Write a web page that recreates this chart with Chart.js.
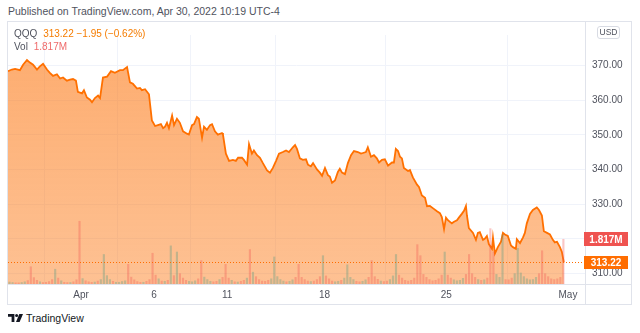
<!DOCTYPE html>
<html><head><meta charset="utf-8">
<script src="https://cdn.jsdelivr.net/npm/chart.js@4.4.1/dist/chart.umd.min.js"></script>
<style>
html,body{margin:0;padding:0;background:#fff;width:640px;height:333px;overflow:hidden;font-family:"Liberation Sans",Arial,sans-serif;}
#pub{position:absolute;left:8px;top:5px;font-size:10.5px;color:#50535e;white-space:nowrap;}
#frame{position:absolute;left:7px;top:21px;width:625px;height:284px;border:1px solid #e0e3eb;box-sizing:border-box;}
#wrap{position:absolute;left:8px;top:22px;width:623px;height:282px;}
#legend{position:absolute;left:14px;top:27px;font-size:10px;color:#50535e;line-height:13px;white-space:nowrap;}
#legend .o{color:#f57c00;margin-left:3px;}
#legend .r{color:#ef6b6b;margin-left:3px;}
#usd{position:absolute;left:597px;top:26px;width:21px;height:11px;border:1px solid #d8dbe3;border-radius:3px;font-size:8.5px;line-height:11px;text-align:center;color:#50535e;background:#fff;}
#logo{position:absolute;left:8px;top:312px;font-size:10.5px;color:#131722;white-space:nowrap;}
#logo svg{vertical-align:-1px;margin-right:3px;}
</style></head>
<body>
<div id="pub">Published on TradingView.com, Apr 30, 2022 10:19 UTC-4</div>
<div id="frame"></div>
<div id="wrap"><canvas id="c"></canvas></div>
<div id="legend"><div>QQQ <span class="o" id="lp"></span></div><div>Vol <span class="r" id="lv"></span></div></div>
<div id="usd">USD</div>
<div id="logo"><svg width="15" height="10" viewBox="0 0 15 10"><path d="M0 1H6.4V9H3.6V3.8H0Z" fill="#131722"/><circle cx="8.6" cy="2.5" r="1.5" fill="#131722"/><path d="M11.3 1H15L11.6 9H8Z" fill="#131722"/></svg>TradingView</div>
<script>
// Time in trading days (0 = Mar 29 session start, 23 = May 2)
const days = [0,0.16,0.29,0.49,0.62,0.78,0.90,1.03,1.19,1.31,1.44,1.60,1.72,1.85,2.01,2.14,2.26,2.42,2.55,2.67,2.79,2.87,3.04,3.12,3.24,3.37,3.45,3.57,3.70,3.78,3.90,4.07,4.23,4.39,4.60,4.72,4.89,5.01,5.13,5.30,5.42,5.50,5.63,5.79,5.91,6.04,6.16,6.28,6.37,6.45,6.53,6.61,6.74,6.82,6.94,7.06,7.19,7.35,7.43,7.56,7.64,7.76,7.84,7.97,8.05,8.17,8.30,8.38,8.50,8.62,8.79,8.83,8.95,9.08,9.24,9.36,9.45,9.61,9.69,9.82,9.90,10.02,10.10,10.23,10.35,10.47,10.64,10.76,10.88,11.01,11.13,11.29,11.42,11.54,11.70,11.79,11.87,11.99,12.11,12.24,12.32,12.44,12.53,12.69,12.81,12.90,13.02,13.14,13.22,13.31,13.43,13.55,13.63,13.72,13.84,13.96,14.09,14.21,14.37,14.50,14.58,14.70,14.78,14.91,15.03,15.15,15.24,15.36,15.48,15.61,15.77,15.85,15.93,16.02,16.10,16.18,16.26,16.43,16.51,16.63,16.80,16.88,17.00,17.13,17.21,17.33,17.45,17.62,17.74,17.82,17.91,17.99,18.07,18.23,18.32,18.44,18.52,18.64,18.73,18.81,18.85,18.93,19.10,19.22,19.30,19.38,19.51,19.59,19.67,19.75,19.88,19.92,20.00,20.12,20.25,20.33,20.41,20.53,20.66,20.74,20.86,20.90,21.03,21.15,21.23,21.31,21.44,21.56,21.72,21.81,21.93,22.01,22.14,22.26,22.38,22.46,22.55,22.67,22.75,22.83];
const prices = [368.35,368.82,368.99,368.63,370.19,371.56,370.82,370.19,368.82,369.73,
370.47,368.82,367.89,366.98,367.45,366.24,366.52,365.61,365.89,366.08,
365.61,362.40,361.96,362.87,360.76,360.12,359.38,360.59,361.30,360.59,
366.52,366.79,368.35,367.89,368.63,368.63,369.53,365.14,364.71,363.33,
363.50,362.87,363.14,361.69,354.17,352.53,352.80,353.08,351.90,352.36,
353.46,351.90,355.54,352.80,354.64,353.46,350.99,350.33,350.06,352.80,
353.08,355.11,354.64,349.15,352.36,351.43,352.80,353.08,350.99,350.06,
350.52,350.06,344.57,342.49,342.76,342.49,343.39,343.39,342.76,341.39,
347.32,344.57,345.50,344.13,343.39,341.83,339.74,339.09,340.46,342.49,
344.57,345.04,345.50,345.04,346.41,347.04,345.94,343.20,342.76,342.93,
341.39,340.92,341.83,340.02,339.09,338.18,340.46,338.37,337.99,336.18,
336.81,339.28,340.18,339.09,338.65,341.83,344.13,345.31,345.04,344.57,
344.76,345.04,346.41,343.67,344.13,343.20,342.02,342.76,342.93,341.12,
342.02,342.02,345.94,345.31,343.67,343.20,340.46,339.55,339.83,337.71,
335.63,334.97,332.50,331.87,329.40,329.49,328.86,327.95,327.40,326.30,
322.82,326.11,325.37,324.47,324.93,325.37,326.11,327.21,328.11,329.49,
326.74,323.09,321.72,319.72,321.72,321.91,319.72,320.08,320.82,318.51,
317.14,320.35,315.77,317.61,319.17,321.72,321.26,320.82,318.07,317.61,
317.14,319.89,318.79,320.35,321.72,324.47,327.21,328.31,329.05,328.31,
326.74,322.19,321.72,321.26,319.72,318.98,319.17,317.61,316.24,313.22];
// Volume (millions), 8 bars per trading day
const volumes = [
0.08,0.06,0.05,0.05,0.06,0.09,0.14,0.70,
0.26,0.15,0.09,0.06,0.07,0.10,0.18,0.60,
0.24,0.13,0.07,0.06,0.06,0.09,0.17,2.55,
0.22,0.13,0.09,0.07,0.08,0.12,0.18,1.20,
0.34,0.18,0.11,0.07,0.07,0.10,0.13,0.80,
0.28,0.17,0.10,0.07,0.07,0.11,0.18,1.25,
0.36,0.21,0.12,0.11,0.15,1.55,0.34,1.30,
0.42,0.24,0.15,0.11,0.09,0.13,0.21,0.95,
0.28,0.18,0.11,0.09,0.11,0.18,0.27,0.80,
0.24,0.15,0.09,0.08,0.11,0.15,0.24,1.40,
0.48,0.30,0.18,0.12,0.11,0.15,0.21,1.10,
0.30,0.18,0.12,0.09,0.11,0.17,0.27,0.80,
0.27,0.18,0.12,0.10,0.12,0.18,0.30,1.15,
0.33,0.21,0.12,0.09,0.11,0.15,0.24,0.78,
0.27,0.18,0.11,0.09,0.11,0.17,0.27,0.95,
0.30,0.19,0.12,0.10,0.12,0.18,0.33,1.20,
0.36,0.24,0.15,0.12,0.15,0.24,1.60,1.15,
0.39,0.27,0.18,0.13,0.15,0.21,0.36,1.30,
0.36,0.24,0.17,0.13,0.15,0.23,0.39,1.20,
0.42,0.27,0.18,0.15,0.17,0.24,2.25,1.30,
0.39,0.27,2.00,0.18,0.17,0.24,0.42,1.45,
0.45,0.30,0.21,0.17,0.18,0.27,0.42,1.35,
0.42,0.30,0.21,0.18,0.21,0.27,1.817];
const barsPerDay = 8;
const tickDays = [3,6,9,13,18,23];
const tickLabels = ['Apr','6','11','18','25','May'];
const priceTicks = [310,320,330,340,350,360,370];

const lastPrice = prices[prices.length-1];
const lastVol = volumes[volumes.length-1];
document.getElementById('lp').textContent = lastPrice.toFixed(2)+'  \u22121.95 (\u22120.62%)';
document.getElementById('lv').textContent = lastVol.toFixed(3)+'M';

function priceAt(t){
  if(t<=days[0]) return prices[0];
  for(let i=1;i<days.length;i++){ if(t<=days[i]){const f=(t-days[i-1])/(days[i]-days[i-1]);return prices[i-1]+f*(prices[i]-prices[i-1]);} }
  return prices[prices.length-1];
}
const volPts = volumes.map((v,i)=>({x:(i+0.5)/barsPerDay, y:v}));
const volColors = volPts.map(p=>{
  const a=priceAt(p.x-0.5/barsPerDay), b=priceAt(p.x+0.5/barsPerDay);
  return b>=a ? 'rgba(60,150,130,0.30)' : 'rgba(239,83,80,0.33)';
});

const FONT = '"Liberation Sans", Arial, sans-serif';
const overlay = {
  id:'overlay',
  afterDatasetsDraw(chart){
    const {ctx, chartArea:ca, scales} = chart;
    const py = scales.y.getPixelForValue(lastPrice);
    ctx.save();
    ctx.strokeStyle='#ff6d00'; ctx.lineWidth=1; ctx.setLineDash([1,2]);
    ctx.beginPath(); ctx.moveTo(ca.left, Math.round(py)+0.5); ctx.lineTo(ca.right, Math.round(py)+0.5); ctx.stroke();
    ctx.restore();
  },
  afterDraw(chart){
    const {ctx, chartArea:ca, scales, width, height} = chart;
    ctx.save();
    ctx.strokeStyle='#e0e3eb'; ctx.lineWidth=1;
    ctx.beginPath();
    ctx.moveTo(0, ca.bottom+0.5); ctx.lineTo(width, ca.bottom+0.5);
    ctx.moveTo(ca.right+0.5, 0); ctx.lineTo(ca.right+0.5, height);
    ctx.stroke();
    const boxes = [
      {v: scales.yv.getPixelForValue(lastVol), c:'#ef5350', t: lastVol.toFixed(3)+'M', h:14},
      {v: scales.y.getPixelForValue(lastPrice), c:'#ff6d00', t: lastPrice.toFixed(2), h:13}
    ];
    ctx.font = 'bold 10px '+FONT; ctx.textAlign='center'; ctx.textBaseline='middle';
    boxes.forEach(b=>{
      ctx.fillStyle=b.c;
      ctx.fillRect(ca.right-1, Math.round(b.v-b.h/2), 44, b.h);
      ctx.fillStyle='#fff';
      ctx.fillText(b.t, ca.right+21, b.v+0.5);
    });
    ctx.restore();
  }
};

new Chart(document.getElementById('c'), {
  data:{
    datasets:[
      {type:'line', label:'QQQ', data: days.map((d,i)=>({x:d,y:prices[i]})), yAxisID:'y', xAxisID:'x',
       borderColor:'#ff7000', borderWidth:1.8, pointRadius:0, tension:0, order:2,
       fill:'start',
       backgroundColor:(c)=>{const ca=c.chart.chartArea; if(!ca) return 'rgba(255,120,20,0.5)';
         const g=c.chart.ctx.createLinearGradient(0,ca.top,0,ca.bottom);
         g.addColorStop(0,'rgba(252,120,20,0.62)'); g.addColorStop(1,'rgba(252,120,20,0.46)'); return g;}},
      {type:'bar', label:'Vol', data: volPts, yAxisID:'yv', xAxisID:'x', backgroundColor: volColors,
       barThickness:1.5, order:1}
    ]
  },
  options:{
    responsive:true, maintainAspectRatio:false, animation:false,
    layout:{padding:0},
    plugins:{legend:{display:false}, tooltip:{enabled:false}},
    scales:{
      x:{type:'linear', position:'bottom', min:0, max:23.7, offset:false,
         afterBuildTicks:(s)=>{s.ticks = tickDays.map(v=>({value:v}));},
         afterFit:(s)=>{s.height=20;},
         ticks:{autoSkip:false, maxRotation:0, padding:5, color:'#50535e', font:{family:FONT,size:10},
                callback:(v)=>{const i=tickDays.indexOf(v); return i>=0?tickLabels[i]:'';}},
         grid:{color:'#f0f3fa', drawTicks:false}, border:{display:false}},
      y:{type:'linear', position:'right', min:306.98, max:378.78,
         afterBuildTicks:(s)=>{s.ticks = priceTicks.map(v=>({value:v}));},
         afterFit:(s)=>{s.width=46;},
         ticks:{padding:7, color:'#50535e', font:{family:FONT,size:10}, callback:(v)=>v.toFixed(2)},
         grid:{color:'#f0f3fa', drawTicks:false}, border:{display:false}},
      yv:{type:'linear', display:false, min:0, max:10.12}
    }
  },
  plugins:[overlay]
});
</script>
</body></html>
